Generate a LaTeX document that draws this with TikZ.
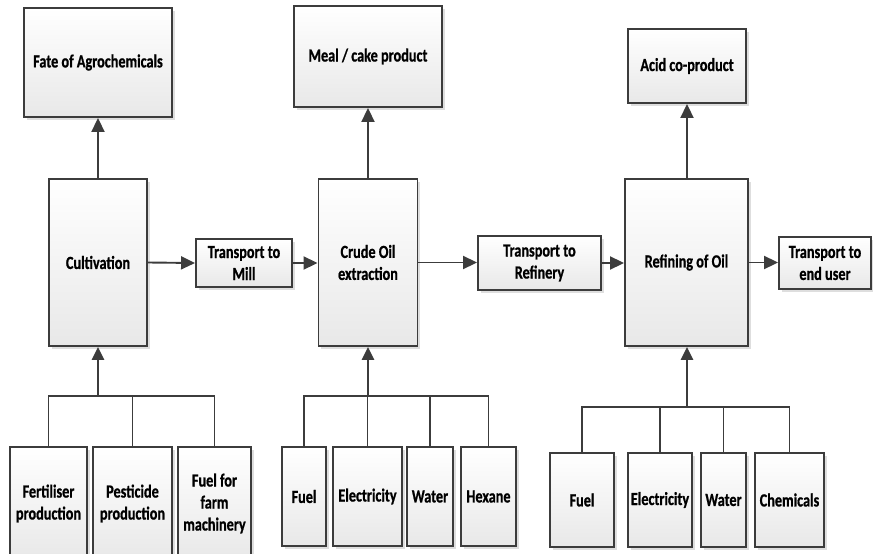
\documentclass[tikz,border=0pt]{standalone}
\usepackage{fontspec}
\setmainfont{Carlito}[FakeStretch=0.77, BoldFeatures={FakeBold=0.8}]
\usetikzlibrary{arrows.meta,shadows}
\definecolor{edge}{HTML}{3C3C3C}
\tikzset{
  box/.style={draw=edge, line width=1.9pt, top color=white, bottom color=black!9,
    drop shadow={shadow xshift=2.5pt, shadow yshift=-2.5pt, fill=black!13, opacity=1},
    align=center, inner sep=1pt, font=\fontsize{18.5}{22}\selectfont\bfseries},
  link/.style={draw=edge, line width=1.9pt},
  flow/.style={link, -{Triangle[length=14pt,width=13pt]}},
  trunk/.style={draw=edge, line width=2.8pt, -{Triangle[length=13pt,width=12pt]}}
}
\begin{document}
\begin{tikzpicture}[x=1pt,y=-1pt]
\useasboundingbox (0,0) rectangle (873,554);
% top products
\node[box, minimum width=148pt, minimum height=109pt] (fate) at (98,62.5) {Fate of Agrochemicals};
\node[box, minimum width=148pt, minimum height=101pt] (meal) at (368,56.5) {Meal / cake product};
\node[box, minimum width=118pt, minimum height=74pt] (acid) at (687,66) {Acid co-product};
% main chain
\node[box, minimum width=98pt, minimum height=167pt] (cult) at (98,262.5) {Cultivation};
\node[box, minimum width=96pt, minimum height=48pt] (tmill) at (244,263) {Transport to\\Mill};
\node[box, minimum width=99pt, minimum height=167pt] (crude) at (368,262.5) {Crude Oil\\extraction};
\node[box, minimum width=123pt, minimum height=54pt] (tref) at (539.5,263) {Transport to\\Refinery};
\node[box, minimum width=123pt, minimum height=167pt] (refin) at (686.5,262.5) {Refining of Oil};
\node[box, minimum width=92pt, minimum height=52pt] (tend) at (825,263) {Transport to\\end user};
% inputs group 1
\node[box, minimum width=77pt, minimum height=113pt] (fert) at (48.5,503.5) {Fertiliser\\production};
\node[box, minimum width=79pt, minimum height=113pt] (pest) at (132.5,503.5) {Pesticide\\production};
\node[box, minimum width=73pt, minimum height=113pt] (fuelf) at (214.5,503.5) {Fuel for\\farm\\machinery};
% inputs group 2
\node[box, minimum width=44pt, minimum height=99pt] (fuel2) at (304,496.5) {Fuel};
\node[box, minimum width=69pt, minimum height=99pt] (elec2) at (367.5,496.5) {Electricity};
\node[box, minimum width=46pt, minimum height=99pt] (water2) at (430,496.5) {Water};
\node[box, minimum width=55pt, minimum height=99pt] (hex) at (488.5,496.5) {Hexane};
% inputs group 3
\node[box, minimum width=64pt, minimum height=94pt] (fuel3) at (582,500) {Fuel};
\node[box, minimum width=64pt, minimum height=94pt] (elec3) at (660,500) {Electricity};
\node[box, minimum width=45pt, minimum height=94pt] (water3) at (723.5,500) {Water};
\node[box, minimum width=69pt, minimum height=94pt] (chem) at (789.5,500) {Chemicals};
% bus coordinates
\coordinate (bus1) at (98,396);
\coordinate (bus2) at (368,396);
\coordinate (bus3) at (687,407);
% upward product arrows
\draw[flow] (cult.north) -- (fate.south);
\draw[flow] (crude.north) -- (meal.south);
\draw[flow] (refin.north -| acid.south) -- (acid.south);
% horizontal chain
\draw[flow] (cult.east) -- (tmill.west);
\draw[flow] (tmill.east) -- (tmill.east -| crude.west);
\draw[flow] (crude.east) -- (crude.east -| tref.west);
\draw[flow] (tref.east) -- (tref.east -| refin.west);
\draw[flow] (refin.east) -- (refin.east -| tend.west);
% input tree 1
\draw[link] (fert.north) -- (fert.north |- bus1) -- (fuelf.north |- bus1) -- (fuelf.north);
\draw[link] (pest.north) -- (pest.north |- bus1);
\draw[trunk] (bus1) -- (cult.south);
% input tree 2
\draw[link] (fuel2.north) -- (fuel2.north |- bus2) -- (hex.north |- bus2) -- (hex.north);
\draw[link] (elec2.north) -- (elec2.north |- bus2);
\draw[link] (water2.north) -- (water2.north |- bus2);
\draw[trunk] (bus2) -- (crude.south);
% input tree 3
\draw[link] (fuel3.north) -- (fuel3.north |- bus3) -- (chem.north |- bus3) -- (chem.north);
\draw[link] (elec3.north) -- (elec3.north |- bus3);
\draw[link] (water3.north) -- (water3.north |- bus3);
\draw[trunk] (bus3) -- (bus3 |- refin.south);
\end{tikzpicture}
\end{document}
